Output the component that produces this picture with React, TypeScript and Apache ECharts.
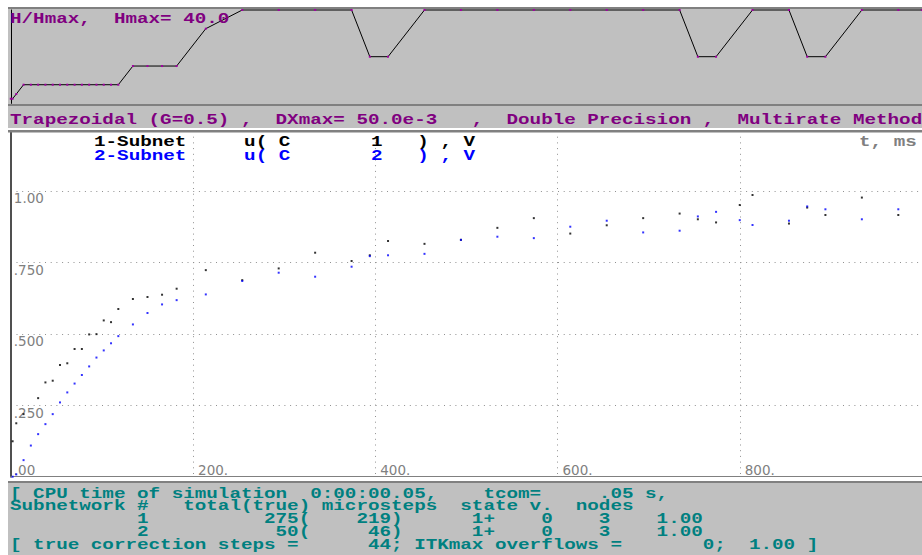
import React, { useEffect, useRef } from 'react';
import * as echarts from 'echarts';

// ---- data ----
// Subnet 1 (black): time, ms and u(C1), V
const SUB1_T = [2, 6, 14, 30, 38, 46, 54, 62, 70, 78, 86, 94, 102, 110, 118, 134, 150, 166, 182, 214, 254, 294, 334, 374, 394, 414, 454, 494, 534, 574, 614, 654, 694, 734, 754, 774, 800, 814, 854, 874, 894, 934, 974];
const SUB1_U = [0.124, 0.187, 0.219, 0.275, 0.330, 0.336, 0.391, 0.397, 0.447, 0.447, 0.498, 0.499, 0.547, 0.541, 0.587, 0.622, 0.629, 0.637, 0.658, 0.723, 0.688, 0.729, 0.784, 0.755, 0.775, 0.825, 0.815, 0.829, 0.871, 0.905, 0.851, 0.880, 0.905, 0.921, 0.901, 0.890, 0.951, 0.986, 0.886, 0.942, 0.916, 0.977, 0.916];
// Subnet 2 (blue)
const SUB2_T = [2, 6, 14, 22, 30, 38, 46, 54, 62, 70, 78, 86, 94, 102, 110, 118, 134, 150, 166, 182, 214, 254, 294, 334, 374, 394, 414, 454, 494, 534, 574, 614, 654, 694, 734, 754, 774, 800, 814, 854, 874, 894, 934, 974];
const SUB2_U = [0.000, 0.008, 0.058, 0.109, 0.149, 0.184, 0.219, 0.260, 0.295, 0.326, 0.356, 0.386, 0.417, 0.442, 0.467, 0.492, 0.533, 0.573, 0.603, 0.618, 0.638, 0.685, 0.714, 0.700, 0.735, 0.772, 0.775, 0.780, 0.829, 0.840, 0.835, 0.875, 0.896, 0.855, 0.861, 0.911, 0.927, 0.898, 0.881, 0.896, 0.946, 0.936, 0.901, 0.936];
// Step size H/Hmax (top strip)
const H_T = [0, 2, 6, 14, 22, 30, 38, 46, 54, 62, 70, 78, 86, 94, 102, 110, 118, 134, 150, 166, 182, 214, 254, 294, 334, 374, 394, 414, 454, 494, 534, 574, 614, 654, 694, 734, 754, 774, 814, 854, 874, 894, 934, 974, 1000];
const H_VAL = [0.05, 0.05, 0.1, 0.2, 0.2, 0.2, 0.2, 0.2, 0.2, 0.2, 0.2, 0.2, 0.2, 0.2, 0.2, 0.2, 0.2, 0.4, 0.4, 0.4, 0.4, 0.8, 1, 1, 1, 1, 0.5, 0.5, 1, 1, 1, 1, 1, 1, 1, 1, 0.5, 0.5, 1, 1, 0.5, 0.5, 1, 1, 1];

// tick labels
const Y_TICKS = [0, 0.25, 0.5, 0.75, 1.0];
const Y_TICK_LABELS = ['.00', '.250', '.500', '.750', '1.00'];
const X_TICKS = [200, 400, 600, 800];
const X_TICK_LABELS = ['200.', '400.', '600.', '800.'];

// texts
const atCols = (parts: [number, string][]) => {
  let s = '';
  for (const [c, t] of parts) {
    while (s.length < c) s += ' ';
    s += t;
  }
  return s;
};
const TOP_LABEL = atCols([[0, 'H/Hmax,'], [9, 'Hmax='], [15, '40.0']]);
const HEADER = atCols([[0, 'Trapezoidal'], [12, '(G=0.5)'], [20, ','], [23, 'DXmax='], [30, '50.0e-3'], [40, ','], [43, 'Double'], [50, 'Precision'], [60, ','], [63, 'Multirate'], [73, 'Method']]);
const LEGEND1 = atCols([[0, '1-Subnet'], [13, 'u('], [16, 'C'], [24, '1'], [28, ')'], [30, ','], [32, 'V']]);
const LEGEND2 = atCols([[0, '2-Subnet'], [13, 'u('], [16, 'C'], [24, '2'], [28, ')'], [30, ','], [32, 'V']]);
const T_UNIT = 't, ms';
const BOTTOM_LINES = [
  atCols([[0, '['], [2, 'CPU'], [6, 'time'], [11, 'of'], [14, 'simulation'], [26, '0:00:00.05,'], [41, 'tcom='], [51, '.05'], [55, 's,']]),
  atCols([[0, 'Subnetwork'], [11, '#'], [15, 'total(true)'], [27, 'microsteps'], [39, 'state'], [45, 'v.'], [49, 'nodes']]),
  atCols([[11, '1'], [22, '275('], [30, '219)'], [40, '1+'], [46, '0'], [51, '3'], [56, '1.00']]),
  atCols([[11, '2'], [23, '50('], [31, '46)'], [40, '1+'], [46, '0'], [51, '3'], [56, '1.00']]),
  atCols([[0, '['], [2, 'true'], [7, 'correction'], [18, 'steps'], [24, '='], [31, '44;'], [35, 'ITKmax'], [42, 'overflows'], [52, '='], [60, '0;'], [64, '1.00'], [69, ']']]),
];

const CELL = 11.55;
const FS = 15;
const SX = CELL / (0.6 * FS);
const MONO = '"Liberation Mono", "Courier New", monospace';
const TICK_FONT = '"DejaVu Sans", sans-serif';

const mono = (text: string, x: number, y: number, fill: string) => ({
  type: 'text',
  x,
  y,
  scaleX: SX,
  z: 50,
  style: { text, fill, fontFamily: MONO, fontSize: FS, fontWeight: 'bold', align: 'left', verticalAlign: 'middle' },
});

const rect = (x: number, y: number, w: number, h: number, fill: string, z: number) => ({
  type: 'rect',
  z,
  shape: { x, y, width: w, height: h },
  style: { fill },
  silent: true,
});

export default function App() {
  const ref = useRef<HTMLDivElement>(null);
  useEffect(() => {
    if (!ref.current) return;
    const chart = echarts.init(ref.current, undefined, { renderer: 'svg' });
    const dotted = { color: '#909090', width: 1, type: [1, 4.7] as number[] };
    const yFmt = (v: number) => {
      const i = Y_TICKS.findIndex((t) => Math.abs(t - v) < 1e-6);
      if (i < 0) return '';
      return i === 0 ? `{lo|${Y_TICK_LABELS[i]}}` : `{hi|${Y_TICK_LABELS[i]}}`;
    };
    const xFmt = (v: number) => {
      const i = X_TICKS.findIndex((t) => Math.abs(t - v) < 1e-6);
      return i < 0 ? '' : X_TICK_LABELS[i];
    };
    const option = {
      animation: false,
      backgroundColor: '#ffffff',
      grid: [
        { left: 10.8, top: 10, width: 912.2, height: 93.4, show: false },
        { left: 10.8, top: 131, width: 912.2, height: 345.7, show: false },
      ],
      xAxis: [
        { gridIndex: 0, type: 'value', min: 0, max: 1000, show: false },
        {
          gridIndex: 1, type: 'value', min: 0, max: 1000, interval: 200,
          axisLine: { show: true, onZero: false, lineStyle: { color: '#808080', width: 1 } },
          axisTick: { show: false },
          splitLine: { show: true, lineStyle: dotted },
          axisLabel: {
            inside: true, formatter: xFmt, color: '#808080', fontFamily: TICK_FONT, fontSize: 13.5,
            align: 'left', verticalAlign: 'bottom', margin: 0, padding: [0, 0, 0, 5],
            showMinLabel: false, showMaxLabel: false,
          },
        },
      ],
      yAxis: [
        {
          gridIndex: 0, type: 'value', min: 0, max: 1,
          axisLine: { show: true, lineStyle: { color: '#000000', width: 1 } },
          axisTick: { show: false }, axisLabel: { show: false }, splitLine: { show: false },
        },
        {
          gridIndex: 1, type: 'value', min: 0, max: 1.21, interval: 0.25,
          axisLine: { show: true, onZero: false, lineStyle: { color: '#505050', width: 2 } },
          axisTick: { show: false },
          splitLine: { show: true, lineStyle: dotted },
          axisLabel: {
            inside: true, formatter: yFmt, align: 'left', verticalAlign: 'middle', margin: 3,
            showMinLabel: true, showMaxLabel: false,
            color: '#808080', fontFamily: TICK_FONT, fontSize: 13.5,
            rich: {
              hi: { color: '#808080', fontFamily: TICK_FONT, fontSize: 13.5, padding: [15, 0, 0, 0] },
              lo: { color: '#808080', fontFamily: TICK_FONT, fontSize: 13.5, padding: [0, 0, 13, 0] },
            },
          },
        },
      ],
      series: [
        {
          type: 'line', xAxisIndex: 0, yAxisIndex: 0, clip: false,
          data: H_T.map((t, i) => [t, H_VAL[i]]),
          symbol: 'rect', symbolSize: 2, showSymbol: true,
          itemStyle: { color: '#a000a0' },
          lineStyle: { color: '#000000', width: 1 },
        },
        {
          type: 'scatter', xAxisIndex: 1, yAxisIndex: 1,
          data: SUB1_T.map((t, i) => [t, SUB1_U[i]]),
          symbol: 'rect', symbolSize: 2,
          itemStyle: { color: '#000000' },
        },
        {
          type: 'scatter', xAxisIndex: 1, yAxisIndex: 1,
          data: SUB2_T.map((t, i) => [t, SUB2_U[i]]),
          symbol: 'rect', symbolSize: 2,
          itemStyle: { color: '#0000ff' },
        },
      ],
      graphic: {
        elements: [
          rect(8, 7, 914, 98, '#c0c0c0', -10),
          rect(8, 7, 914, 2, '#808080', -9),
          rect(8, 104, 914, 2, '#808080', 10),
          rect(8, 106, 914, 22, '#c0c0c0', -10),
          rect(8, 130, 914, 2.5, '#808080', 10),
          rect(8, 481, 914, 74, '#c0c0c0', 10),
          rect(8, 481, 914, 2, '#808080', 11),
          mono(TOP_LABEL, 10, 18.8, '#800080'),
          mono(HEADER, 10, 119.8, '#800080'),
          mono(LEGEND1, 94, 142.2, '#000000'),
          mono(LEGEND2, 94, 156.5, '#0000ff'),
          mono(T_UNIT, 859, 142.5, '#808080'),
          ...BOTTOM_LINES.map((l, i) => mono(l, 10, 493.8 + i * 12.7, '#008080')),
        ],
      },
    };
    chart.setOption(option as any);
    return () => chart.dispose();
  }, []);
  return <div ref={ref} style={{ position: 'absolute', left: 0, top: 0, width: 922, height: 555 }} />;
}
